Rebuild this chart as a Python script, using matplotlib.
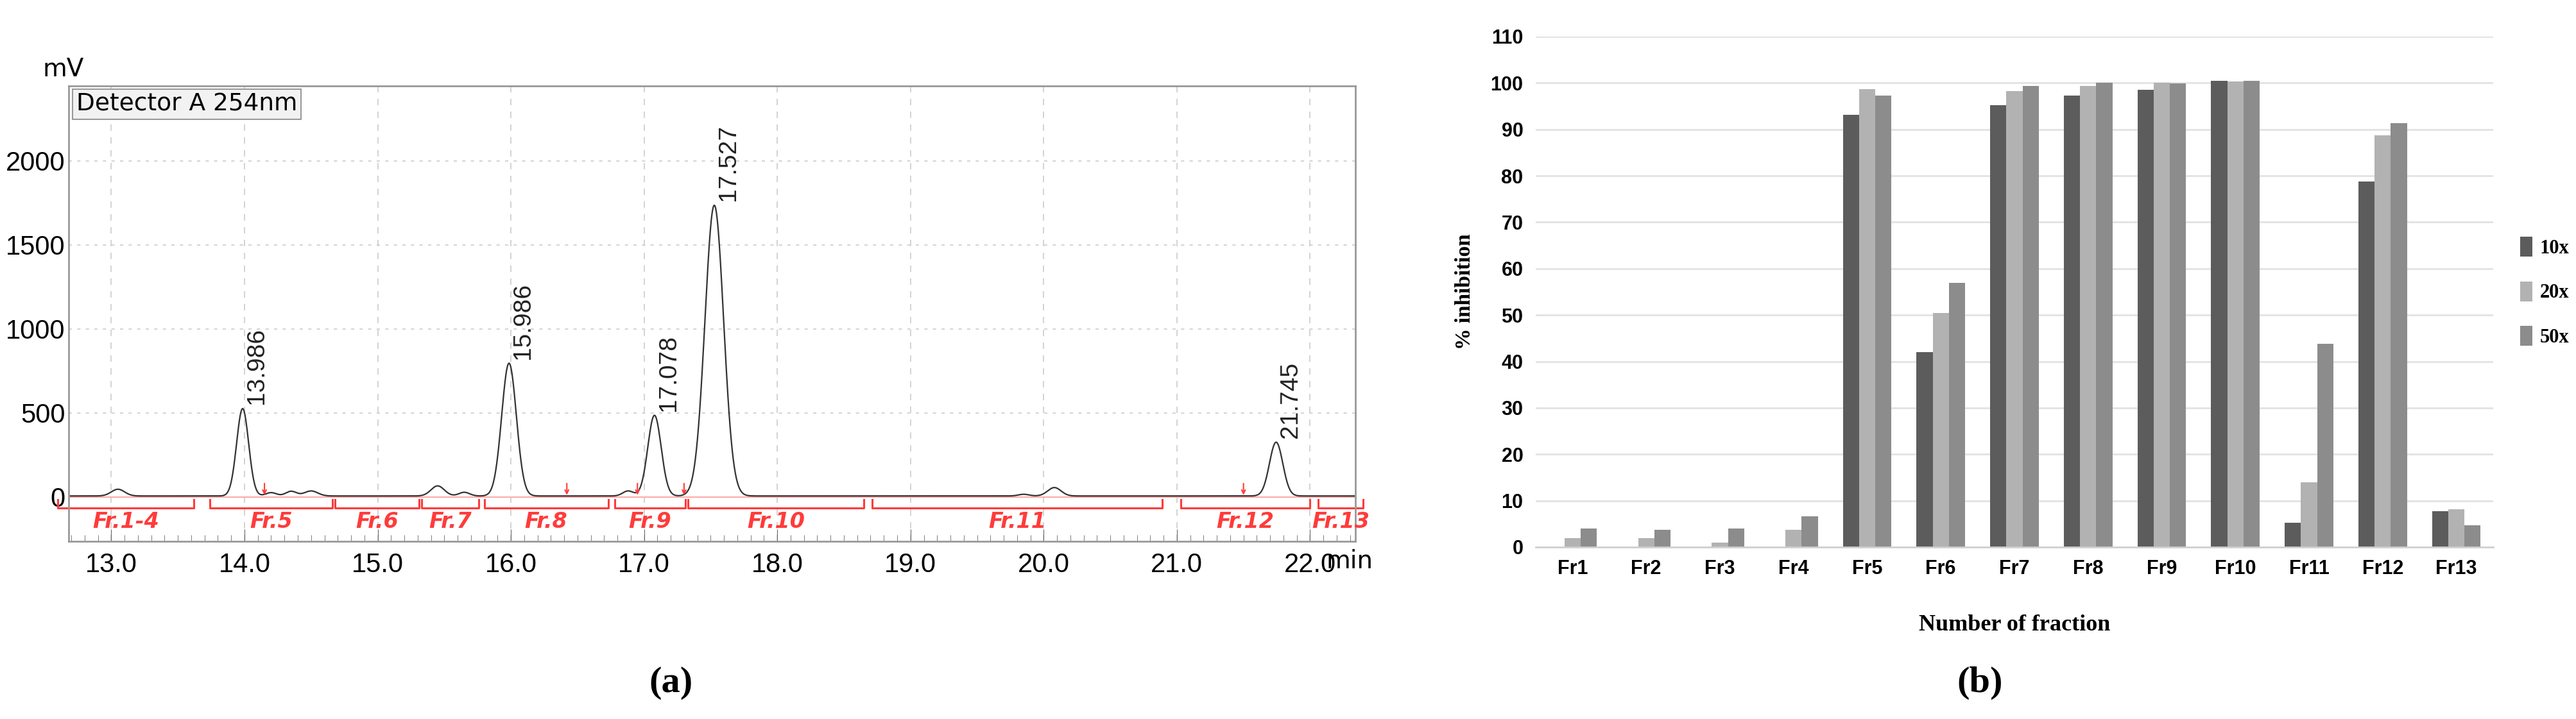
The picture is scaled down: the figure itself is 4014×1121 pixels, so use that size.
import matplotlib.pyplot as plt
import numpy as np

# ---- panel (a): chromatogram peaks (centre min, height mV, width min)
peak_t = [13.05, 13.986, 14.2, 14.35, 14.5, 15.45, 15.65, 15.986, 16.88, 17.078, 17.527, 19.85, 20.08, 21.745]
peak_h = [40, 520, 20, 28, 30, 60, 22, 790, 30, 480, 1730, 10, 50, 320]
peak_w = [0.05, 0.045, 0.04, 0.04, 0.05, 0.05, 0.04, 0.055, 0.04, 0.05, 0.07, 0.04, 0.05, 0.05]
label_peaks = ["13.986", "15.986", "17.078", "17.527", "21.745"]

frac_names = ["Fr.1-4", "Fr.5", "Fr.6", "Fr.7", "Fr.8", "Fr.9", "Fr.10", "Fr.11", "Fr.12", "Fr.13"]
frac_start = [12.60, 13.74, 14.68, 15.33, 15.80, 16.78, 17.33, 18.71, 21.03, 22.06]
frac_end = [13.62, 14.66, 15.31, 15.76, 16.73, 17.31, 18.65, 20.89, 22.00, 22.40]
cut_marks = [14.15, 16.42, 16.95, 17.30, 21.50]

# ---- panel (b): % inhibition
fractions = ["Fr1", "Fr2", "Fr3", "Fr4", "Fr5", "Fr6", "Fr7", "Fr8", "Fr9", "Fr10", "Fr11", "Fr12", "Fr13"]
inh_10x = [-0.3, -0.3, -0.3, -0.3, 93.2, 42.0, 95.2, 97.3, 98.5, 100.5, 5.2, 78.8, 7.8]
inh_20x = [2.0, 2.0, 1.0, 3.7, 98.7, 50.4, 98.2, 99.3, 100.0, 100.3, 14.0, 88.7, 8.1]
inh_50x = [4.0, 3.8, 4.0, 6.7, 97.3, 57.0, 99.3, 100.1, 99.9, 100.5, 43.8, 91.3, 4.7]

fig = plt.figure(figsize=(40.14, 11.21), dpi=100)
W, H = 4014, 1121

# ================= (a)
ax = fig.add_axes([107 / W, 1 - 844 / H, (2112 - 107) / W, (844 - 134) / H])
t = np.linspace(12.6, 22.4, 4000)
sig = np.full_like(t, 5.0)
for c, h, w in zip(peak_t, peak_h, peak_w):
    sig += h * np.exp(-0.5 * ((t - c) / w) ** 2)
ax.plot(t, sig, color='#333333', lw=1.6)
ax.set_xlim(12.68, 22.34)
ax.set_ylim(-265, 2445)
ax.set_xticks(np.arange(13, 22.5, 1.0))
ax.set_xticklabels([f"{v:.1f}" for v in np.arange(13, 22.5, 1.0)])
ax.set_xticks(np.arange(12.7, 22.35, 0.1), minor=True)
ax.set_yticks([0, 500, 1000, 1500, 2000])
ax.tick_params(axis='x', which='major', length=14, direction='in', labelsize=30, pad=12, color='#666666')
ax.tick_params(axis='x', which='minor', length=7, direction='in', color='#666666')
ax.tick_params(axis='y', length=0, labelsize=30, pad=4)
for lab in ax.get_xticklabels() + ax.get_yticklabels():
    lab.set_family('Liberation Sans')
for v in np.arange(13, 22.5, 1.0):
    ax.axvline(v, color='#cccccc', ls=(0, (6, 6)), lw=1.2, zorder=0)
for v in [500, 1000, 1500, 2000]:
    ax.axhline(v, color='#cccccc', ls=(0, (3, 5)), lw=1.2, zorder=0)
for s in ax.spines.values():
    s.set_color('#999999')
    s.set_linewidth(2)

for lab in label_peaks:
    c = float(lab)
    h = peak_h[peak_t.index(c)]
    ax.text(c + 0.02, h + 30, lab, rotation=90, ha='left', va='bottom', fontsize=28, color='#222222',
            family='Liberation Sans')

red = '#ff3b3b'
ax.axhline(0, color='#ffaaaa', lw=1.5, zorder=1)
y_top, y_bot = -15, -65
for n, a, b in zip(frac_names, frac_start, frac_end):
    ax.plot([a, a, b, b], [y_top, y_bot, y_bot, y_top], color=red, lw=2.2, clip_on=False)
    ax.text((a + b) / 2, -150, n, color=red, fontsize=24, style='italic', fontweight='bold',
            ha='center', va='center', family='Liberation Sans Narrow')
for m in cut_marks:
    ax.annotate('', xy=(m, 0), xytext=(m, 90), arrowprops=dict(arrowstyle='->', color=red, lw=1.5))

ax.text(-0.02, 1.01, 'mV', transform=ax.transAxes, fontsize=28, ha='left', va='bottom')
ax.text(0.006, 0.985, 'Detector A 254nm', transform=ax.transAxes, fontsize=27, ha='left', va='top',
        bbox=dict(boxstyle='square,pad=0.15', fc='#f2f2f2', ec='#999999', lw=1.5))
ax.text(22.12, -265 - 120, 'min', fontsize=28, ha='left', va='center', clip_on=False)
fig.text(1045 / W, 1 - 1065 / H, '(a)', fontsize=42, family='Liberation Serif', fontweight='bold',
         ha='center', va='center')

# ================= (b)
bx = fig.add_axes([2393 / W, 1 - 853 / H, (3885 - 2393) / W, (853 - 57) / H])
x = np.arange(len(fractions))
bw = 0.22
bx.bar(x - bw, inh_10x, bw, color='#5c5c5c', label='10x')
bx.bar(x, inh_20x, bw, color='#b2b2b2', label='20x')
bx.bar(x + bw, inh_50x, bw, color='#8c8c8c', label='50x')
bx.set_xlim(-0.5, len(fractions) - 0.5)
bx.set_ylim(0, 110)
bx.set_yticks(range(0, 111, 10))
bx.set_xticks(x)
bx.set_xticklabels(fractions)
bx.yaxis.grid(True, color='#e2e2e2', lw=2)
bx.set_axisbelow(True)
for s in ['top', 'right', 'left']:
    bx.spines[s].set_visible(False)
bx.spines['bottom'].set_color('#d0d0d0')
bx.spines['bottom'].set_linewidth(2)
bx.tick_params(length=0, labelsize=22, pad=14)
for lab in bx.get_xticklabels() + bx.get_yticklabels():
    lab.set_fontweight('bold')
    lab.set_family('Liberation Sans')
bx.set_xlabel('Number of fraction', fontsize=26, fontweight='bold', family='Liberation Serif', labelpad=40)
bx.set_ylabel('% inhibition', fontsize=24, fontweight='bold', family='Liberation Serif', labelpad=18)
bx.legend(loc='center left', bbox_to_anchor=(1.01, 0.5), frameon=False,
          handlelength=0.6, handleheight=1.2, handletextpad=0.4, labelspacing=1.2,
          prop={'family': 'Liberation Serif', 'weight': 'bold', 'size': 22})
fig.text(3085 / W, 1 - 1065 / H, '(b)', fontsize=42, family='Liberation Serif', fontweight='bold',
         ha='center', va='center')

fig.savefig('out.png', dpi=100)
